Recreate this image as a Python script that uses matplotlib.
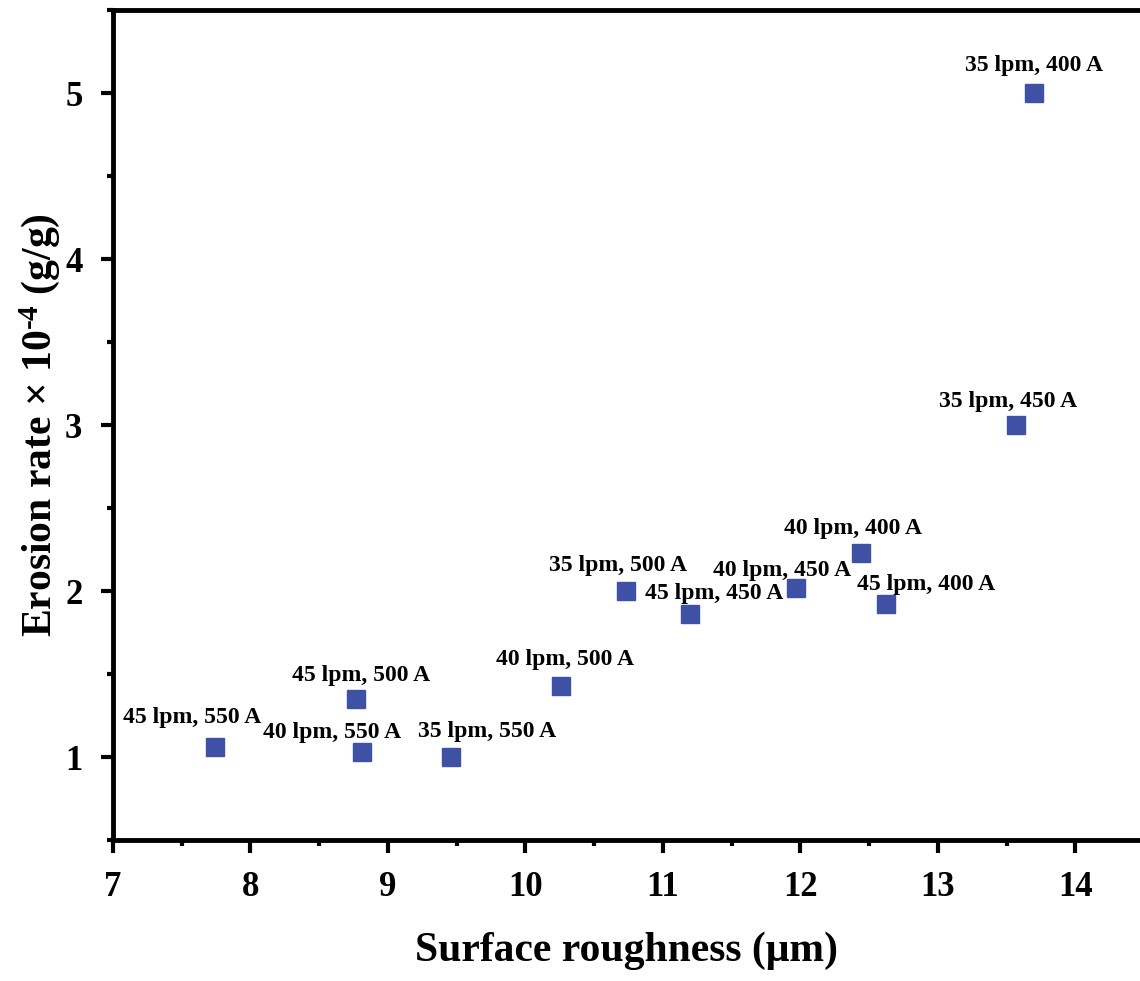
import matplotlib
matplotlib.use("Agg")
import matplotlib.pyplot as plt
from matplotlib.ticker import MultipleLocator

plt.rcParams['font.family'] = ['Liberation Serif', 'DejaVu Serif']
plt.rcParams['font.weight'] = 'bold'
plt.rcParams['mathtext.fontset'] = 'custom'
plt.rcParams['mathtext.rm'] = 'Liberation Serif:bold'
plt.rcParams['mathtext.it'] = 'Liberation Serif:bold'
plt.rcParams['mathtext.bf'] = 'Liberation Serif:bold'

# surface roughness (um) and erosion rate (x1e-4 g/g)
roughness = [7.74, 8.81, 9.46, 8.77, 10.26, 10.73, 11.20, 11.97, 12.44, 12.62, 13.57, 13.70]
erosion   = [1.06, 1.03, 1.00, 1.35, 1.43, 2.00, 1.86, 2.02, 2.23, 1.92, 3.00, 5.00]
labels    = ["45 lpm, 550 A", "40 lpm, 550 A", "35 lpm, 550 A", "45 lpm, 500 A",
             "40 lpm, 500 A", "35 lpm, 500 A", "45 lpm, 450 A", "40 lpm, 450 A",
             "40 lpm, 400 A", "45 lpm, 400 A", "35 lpm, 450 A", "35 lpm, 400 A"]

# label offsets in pixels (dx, dy)
offsets = [(-23, 30), (-30, 20), (36, 25), (5, 23), (4, 26), (-8, 25),
           (24, 21), (-14, 17), (-8, 24), (40, 20), (-8, 24), (0, 28)]

fig = plt.figure(figsize=(11.4, 9.81), dpi=100)
ax = fig.add_axes([113/1140, 141/981, 1 - 113/1140, 830/981])

ax.plot(roughness, erosion, 's', color='#3F51A5', ms=13, mec='#3F51A5')

for x, y, lab, (dx, dy) in zip(roughness, erosion, labels, offsets):
    ax.annotate(lab, (x, y), xytext=(dx, dy), textcoords='offset pixels',
                ha='center', va='center', fontsize=17, fontweight='bold')

ax.set_xlim(7, 14.47)
ax.set_ylim(0.5, 5.5)
ax.xaxis.set_major_locator(MultipleLocator(1))
ax.xaxis.set_minor_locator(MultipleLocator(0.5))
ax.yaxis.set_major_locator(MultipleLocator(1))
ax.yaxis.set_minor_locator(MultipleLocator(0.5))

for s in ['left', 'bottom', 'top']:
    ax.spines[s].set_linewidth(3.5)
ax.spines['right'].set_visible(False)
ax.tick_params(which='major', direction='out', length=9, width=3, labelsize=25, pad=13)
ax.tick_params(which='minor', direction='out', length=4, width=3)
ax.tick_params(top=False, right=False)
for t in ax.get_xticklabels() + ax.get_yticklabels():
    t.set_fontweight('bold')

ax.set_xlabel('Surface roughness (μm)', fontsize=30, fontweight='bold', labelpad=20)
ax.set_ylabel(r'Erosion rate × 10$^{\text{-4}}$ (g/g)', fontsize=30, fontweight='bold', labelpad=2)

fig.savefig('out.png', dpi=100)
